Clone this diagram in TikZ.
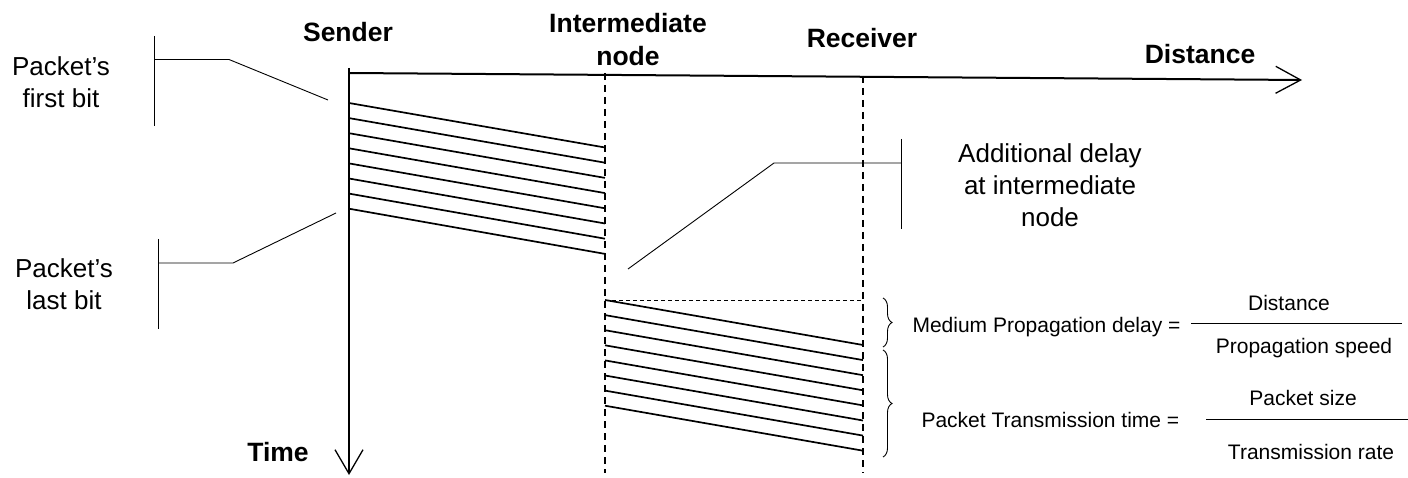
\documentclass[tikz,border=0pt]{standalone}
\usepackage{fontspec}
\setmainfont{Liberation Sans}
\usetikzlibrary{arrows.meta,decorations.pathreplacing}

\begin{document}
\begin{tikzpicture}[x=1pt,y=-1pt,
  axis/.style={line width=2pt},
  pkt/.style={line width=1.7pt},
  lead/.style={line width=0.9pt},
  hop/.style={line width=1.4pt,dash pattern=on 7pt off 5pt},
  big/.style={font=\fontsize{26}{32}\selectfont,align=center},
  bigb/.style={font=\bfseries\fontsize{26.5}{33}\selectfont,align=center},
  small/.style={font=\fontsize{21}{25}\selectfont}]
\useasboundingbox (0,0) rectangle (1408,478);

% axes
\coordinate (top) at (349,68);
\coordinate (tend) at (349,475);
\coordinate (dstart) at (349,73);
\coordinate (dend) at (1302,80);
\draw[axis,-{Straight Barb[length=24pt,width=28pt,line width=1.3pt]}] (top) -- (tend);
\draw[axis,-{Straight Barb[length=25pt,width=27pt,line width=1.3pt]}] (dstart) -- (dend);

% hops
\coordinate (itop) at (605,73);
\coordinate (ibot) at (605,473);
\coordinate (rtop) at (863,76);
\coordinate (rbot) at (863,473);
\draw[hop] (itop) -- (ibot);
\draw[hop] (rtop) -- (rbot);

% labels
\node[bigb] (sender) at (348,32) {Sender};
\node[bigb] (inter) at (628,40) {Intermediate\\node};
\node[bigb] (recv) at (862,38) {Receiver};
\node[bigb] (dist) at (1200,54) {Distance};
\node[bigb] (time) at (278,452) {Time};

% packet bits
\foreach \i in {0,...,7}
  \draw[pkt] (349,103+15.1*\i) -- (605,147.5+15.2*\i);
\foreach \i in {0,...,7}
  \draw[pkt] (605,300+15.1*\i) -- (863,345+15.1*\i);
\draw[line width=0.8pt,dash pattern=on 4pt off 3pt] (605,300) -- (863,300);

% first bit
\node[big] (first) at (61,82) {Packet’s\\first bit};
\coordinate (fa) at (154,36);
\coordinate (fb) at (154,126);
\coordinate (fk) at (229,59.5);
\coordinate (fp) at (328,100);
\draw[lead] (fa) -- (fb);
\draw[lead] (fa|-fk) -- (fk) -- (fp);

% last bit
\node[big] (last) at (64,284) {Packet’s\\last bit};
\coordinate (la) at (158,239);
\coordinate (lb) at (158,329);
\coordinate (lk) at (233,263);
\coordinate (lp) at (336,213);
\draw[lead] (la) -- (lb);
\draw[lead] (la|-lk) -- (lk) -- (lp);

% additional delay
\node[big] (extra) at (1050,185) {Additional delay\\at intermediate\\node};
\coordinate (ea) at (901,139);
\coordinate (eb) at (901,229);
\coordinate (ek) at (774,163);
\coordinate (ep) at (628,269);
\draw[lead] (ea) -- (eb);
\draw[lead] (ea|-ek) -- (ek) -- (ep);

% delays
\draw[lead,decorate,decoration={brace,amplitude=9pt}] (883,298) -- (883,347);
\draw[lead,decorate,decoration={brace,amplitude=9pt}] (883,350) -- (883,457);

\node[small,anchor=west] (prop) at (909,327) {Medium Propagation delay =};
\coordinate (pl) at (1191,323);
\coordinate (pr) at (1402,323);
\draw[lead] (pl) -- (pr);
\node[small] (pnum) at (1289,303) {Distance};
\node[small] (pden) at (1304,348) {Propagation speed};

\node[small,anchor=west] (trans) at (918,420) {Packet Transmission time =};
\coordinate (tl) at (1206,419);
\coordinate (tr) at (1408,419);
\draw[lead] (tl) -- (tr);
\node[small] (tnum) at (1303,398) {Packet size};
\node[small] (tden) at (1311,452) {Transmission rate};
\end{tikzpicture}
\end{document}
